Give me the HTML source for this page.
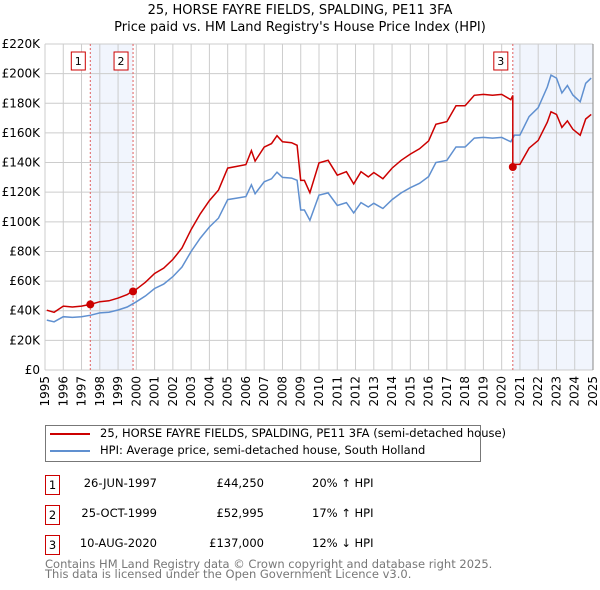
<!DOCTYPE html>
<html><head><meta charset="utf-8"><style>
body{margin:0;background:#fff;font-family:"DejaVu Sans","Liberation Sans",sans-serif;}
#wrap{position:relative;width:600px;height:590px;overflow:hidden;}
.t{position:absolute;white-space:nowrap;color:#000;}
</style></head><body>
<div id="wrap">
<svg id="chart" width="600" height="420" style="position:absolute;left:0;top:0"></svg>
<div class="t" style="left:45px;top:425px;width:434px;height:35px;border:1px solid #777;"></div>
<div class="t" style="left:50px;top:433px;width:40px;height:2px;background:#cc0000"></div>
<div class="t" style="left:100px;top:426px;font-size:11.5px">25, HORSE FAYRE FIELDS, SPALDING, PE11 3FA (semi-detached house)</div>
<div class="t" style="left:50px;top:450px;width:40px;height:2px;background:#6090d0"></div>
<div class="t" style="left:100px;top:443px;font-size:11.5px">HPI: Average price, semi-detached house, South Holland</div>
<div id="rows"></div>
<div class="t" style="left:45px;top:559px;font-size:11.5px;color:#777;line-height:10px">Contains HM Land Registry data © Crown copyright and database right 2025.<br>This data is licensed under the Open Government Licence v3.0.</div>
</div>
<script>
const hpiYears=[1995.1,1995.5,1996,1996.5,1997,1997.5,1998,1998.5,1999,1999.5,2000,2000.5,2001,2001.5,2002,2002.5,2003,2003.5,2004,2004.5,2005,2005.5,2006,2006.3,2006.5,2007,2007.4,2007.7,2008,2008.5,2008.8,2009.0,2009.2,2009.5,2010,2010.5,2011,2011.5,2011.9,2012.3,2012.7,2013,2013.5,2014,2014.5,2015,2015.5,2016,2016.4,2017,2017.5,2018,2018.5,2019,2019.5,2020,2020.5,2020.7,2021,2021.5,2022,2022.5,2022.7,2023,2023.3,2023.6,2023.9,2024.3,2024.6,2024.9];
const hpiValues=[33.7,32.5,36,35.5,36,37,38.5,39,40.5,42.5,46,50,55,58,63,69.5,80,89,96.5,102.5,115,116,117,125,119,127,129,133.5,130,129.5,128,108,108,101,118,119.5,111,113,106,113,110,112.5,109,115,119.5,123,126,130.5,140,141.5,150.5,150.5,156.5,157,156.5,157,154,158.5,158.5,171,177,191,199,197,187,192,185.5,181,193.5,197];
const saleYears=[1997.48,1999.82,2020.61];
const salePrices=[44.25,52.995,137];
const saleLabels=["1","2","3"];
const saleDates=["26-JUN-1997","25-OCT-1999","10-AUG-2020"];
const salePriceText=["£44,250","£52,995","£137,000"];
const saleHpiText=["20% ↑ HPI","17% ↑ HPI","12% ↓ HPI"];
const yTicks=[0,20,40,60,80,100,120,140,160,180,200,220];
const xTicks=[1995,1996,1997,1998,1999,2000,2001,2002,2003,2004,2005,2006,2007,2008,2009,2010,2011,2012,2013,2014,2015,2016,2017,2018,2019,2020,2021,2022,2023,2024,2025];

const X0=45,X1=593,Y0=370,Y1=44;
const xs=y=>X0+(y-1995)/30*(X1-X0);
const ys=v=>Y0-v/220*(Y0-Y1);
const NS="http://www.w3.org/2000/svg";
const svg=document.getElementById('chart');
function mk(tag,attrs,name,parent){const e=document.createElementNS(NS,tag);for(const k in attrs)e.setAttribute(k,attrs[k]);


(parent||svg).appendChild(e);return e;}
function hpiAt(y){for(let i=0;i<hpiYears.length-1;i++){if(y<=hpiYears[i+1]){const f=(y-hpiYears[i])/(hpiYears[i+1]-hpiYears[i]);return hpiValues[i]+f*(hpiValues[i+1]-hpiValues[i]);}}return hpiValues[hpiValues.length-1];}
mk('rect',{x:xs(saleYears[0]),y:Y1,width:xs(saleYears[1])-xs(saleYears[0]),height:Y0-Y1,fill:'#eef3fc',opacity:0.8},'shade-1-2');
mk('rect',{x:xs(saleYears[2]),y:Y1,width:X1-xs(saleYears[2]),height:Y0-Y1,fill:'#eef3fc',opacity:0.8},'shade-3');
yTicks.forEach(v=>{mk('line',{x1:X0,x2:X1,y1:ys(v),y2:ys(v),stroke:'#ccc','stroke-width':1},'y-grid-line');
const t=mk('text',{x:X0-5,y:ys(v)+4,'text-anchor':'end','font-size':12},'y-tick-label');t.textContent=v===0?'£0':'£'+v+'K';});
xTicks.forEach(yr=>{mk('line',{x1:xs(yr),x2:xs(yr),y1:Y1,y2:Y0,stroke:'#ccc','stroke-width':1},'x-grid-line');
const x=xs(yr)+4,y=Y0+6;
const t=mk('text',{x:x,y:y,'text-anchor':'end','font-size':12,transform:`rotate(-90 ${x} ${y})`},'x-tick-label');t.textContent=yr;});
mk('line',{x1:X1,x2:X1,y1:Y1,y2:Y0,stroke:'#888','stroke-width':1},'right-edge');
saleYears.forEach((s,i)=>{mk('line',{x1:xs(s),x2:xs(s),y1:Y1,y2:Y0,stroke:'#e06060','stroke-width':1,'stroke-dasharray':'2,2'},'sale-vline-'+(i+1));
mk('rect',{x:xs(s)-19,y:52,width:14,height:18,fill:'#fff',stroke:'#cc0000'},'sale-marker-box-'+(i+1));
const t=mk('text',{x:xs(s)-12,y:65,'text-anchor':'middle','font-size':11},'sale-marker-label-'+(i+1));t.textContent=saleLabels[i];});
let d='';hpiYears.forEach((y,i)=>{d+=(i?'L':'M')+xs(y).toFixed(1)+','+ys(hpiValues[i]).toFixed(1);});
mk('path',{d:d,fill:'none',stroke:'#6090d0','stroke-width':1.5},'hpi-line');
const ratios=saleYears.map((s,i)=>salePrices[i]/hpiAt(s));
function ratioAt(y){let r=ratios[0];saleYears.forEach((s,i)=>{if(y>=s)r=ratios[i];});return r;}
const pts=[];hpiYears.forEach((y,i)=>pts.push([y,hpiValues[i]]));
saleYears.forEach(s=>{pts.push([s-0.001,hpiAt(s-0.001)]);pts.push([s,hpiAt(s)]);});
pts.sort((a,b)=>a[0]-b[0]);
let d2='';pts.forEach((p,i)=>{d2+=(i?'L':'M')+xs(p[0]).toFixed(1)+','+ys(p[1]*ratioAt(p[0])).toFixed(1);});
mk('path',{d:d2,fill:'none',stroke:'#cc0000','stroke-width':1.5},'property-price-line');
saleYears.forEach((s,i)=>{mk('circle',{cx:xs(s),cy:ys(salePrices[i]),r:4,fill:'#cc0000'},'sale-point-'+(i+1));});
const t1=mk('text',{x:300,y:14,'text-anchor':'middle','font-size':13},'chart-title');t1.textContent='25, HORSE FAYRE FIELDS, SPALDING, PE11 3FA';
const t2=mk('text',{x:300,y:31,'text-anchor':'middle','font-size':13},'chart-subtitle');t2.textContent="Price paid vs. HM Land Registry's House Price Index (HPI)";
const rows=document.getElementById('rows');
saleLabels.forEach((l,i)=>{const top=475+i*30;
const h=`<div class="t" style="left:45px;top:${top}px;width:13px;height:18px;border:1px solid #cc0000;font-size:11.5px;text-align:center;line-height:18px">${l}</div>
<div class="t" style="left:57px;width:100px;text-align:right;top:${top+1}px;font-size:11.5px">${saleDates[i]}</div>
<div class="t" style="left:164px;width:100px;text-align:right;top:${top+1}px;font-size:11.5px">${salePriceText[i]}</div>
<div class="t" style="left:312px;top:${top+1}px;font-size:11.5px">${saleHpiText[i]}</div>`;
rows.insertAdjacentHTML('beforeend',h);});
</script>
</body></html>
